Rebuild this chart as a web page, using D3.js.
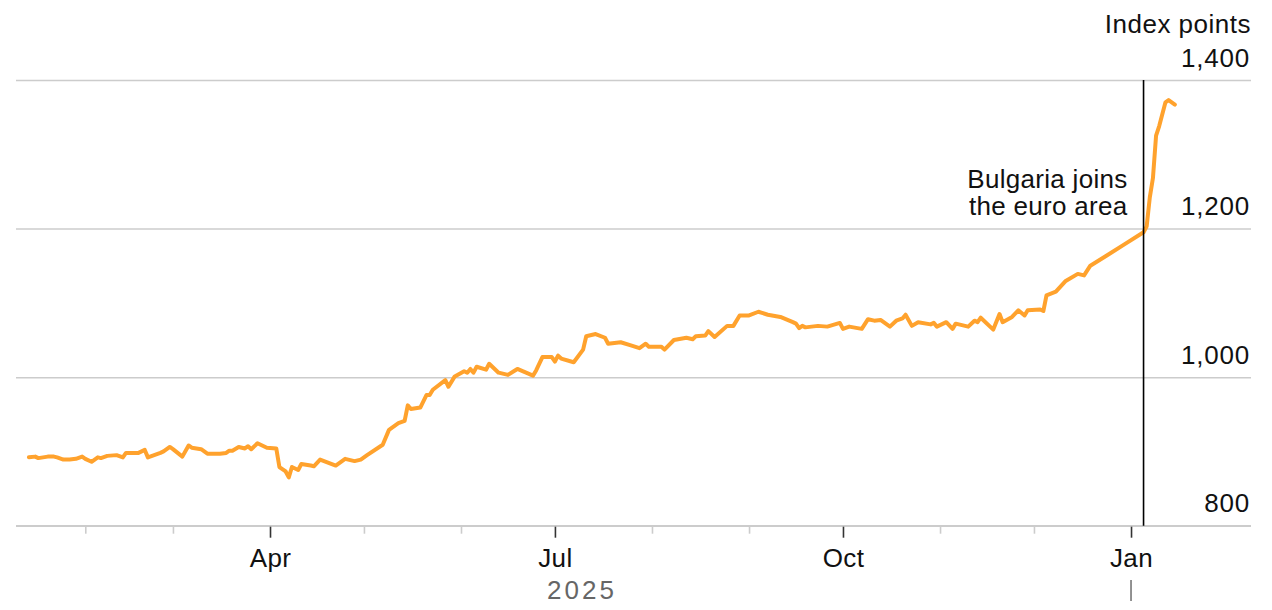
<!DOCTYPE html>
<html>
<head>
<meta charset="utf-8">
<script src="https://cdn.jsdelivr.net/npm/d3@7"></script>
<style>
  body { margin: 0; background: #fff; }
  svg { display: block; font-family: "Liberation Sans", Arial, sans-serif; }
</style>
</head>
<body>
<svg id="chart" width="1272" height="610"></svg>
<script>
// index values
var dates = [
  "2025-01-14","2025-01-16","2025-01-17","2025-01-20","2025-01-22","2025-01-23","2025-01-25","2025-01-27","2025-01-29","2025-01-31",
  "2025-02-01","2025-02-03","2025-02-05","2025-02-06","2025-02-08","2025-02-11","2025-02-13","2025-02-14","2025-02-18","2025-02-20",
  "2025-02-21","2025-02-23","2025-02-25","2025-02-26","2025-02-28","2025-03-01","2025-03-04","2025-03-06","2025-03-07","2025-03-10",
  "2025-03-12","2025-03-16","2025-03-18","2025-03-19","2025-03-20","2025-03-22","2025-03-24","2025-03-25","2025-03-26","2025-03-28",
  "2025-03-30","2025-03-31","2025-04-03","2025-04-04","2025-04-06","2025-04-07","2025-04-08","2025-04-10","2025-04-11","2025-04-14",
  "2025-04-15","2025-04-17","2025-04-22","2025-04-25","2025-04-28","2025-04-30","2025-05-02","2025-05-07","2025-05-09","2025-05-12",
  "2025-05-14","2025-05-15","2025-05-16","2025-05-19","2025-05-21","2025-05-22","2025-05-23","2025-05-27","2025-05-28","2025-05-30",
  "2025-06-02","2025-06-03","2025-06-04","2025-06-05","2025-06-06","2025-06-09","2025-06-10","2025-06-12","2025-06-13","2025-06-16",
  "2025-06-19","2025-06-24","2025-06-25","2025-06-27","2025-06-30","2025-07-01","2025-07-02","2025-07-03","2025-07-07","2025-07-10",
  "2025-07-11","2025-07-14","2025-07-17","2025-07-18","2025-07-22","2025-07-25","2025-07-28","2025-07-30","2025-07-31","2025-08-04",
  "2025-08-05","2025-08-08","2025-08-12","2025-08-14","2025-08-15","2025-08-18","2025-08-19","2025-08-21","2025-08-25","2025-08-27",
  "2025-08-29","2025-09-01","2025-09-04","2025-09-07","2025-09-11","2025-09-15","2025-09-16","2025-09-17","2025-09-18","2025-09-19",
  "2025-09-23","2025-09-26","2025-09-30","2025-10-01","2025-10-03","2025-10-07","2025-10-09","2025-10-11","2025-10-13","2025-10-16",
  "2025-10-18","2025-10-20","2025-10-21","2025-10-23","2025-10-25","2025-10-29","2025-10-30","2025-10-31","2025-11-03","2025-11-05",
  "2025-11-06","2025-11-10","2025-11-12","2025-11-13","2025-11-14","2025-11-18","2025-11-20","2025-11-21","2025-11-24","2025-11-26",
  "2025-11-28","2025-11-29","2025-12-03","2025-12-04","2025-12-05","2025-12-08","2025-12-11","2025-12-15","2025-12-17","2025-12-19",
  "2025-12-24","2025-12-30","2026-01-05","2026-01-06","2026-01-07","2026-01-08","2026-01-09","2026-01-10","2026-01-12","2026-01-13",
  "2026-01-15"
];
var values = [
  892,893,891,893,893,892,889,889,890,893,
  890,886,892,891,894,895,892,898,898,902,
  892,895,898,900,906,903,893,908,905,903,
  897,897,898,901,901,906,904,907,903,911,
  907,905,904,879,873,865,879,875,883,881,
  880,889,881,890,887,889,895,909,929,938,
  941,962,957,959,976,976,983,996,987,1001,
  1008,1006,1011,1006,1014,1010,1018,1010,1006,1003,
  1011,1002,1009,1027,1027,1021,1029,1025,1020,1037,
  1055,1058,1053,1045,1047,1043,1039,1045,1041,1041,
  1037,1050,1053,1051,1055,1056,1062,1054,1069,1069,
  1083,1083,1088,1084,1081,1074,1072,1066,1069,1067,
  1069,1068,1073,1065,1068,1065,1078,1076,1077,1068,
  1076,1079,1084,1069,1074,1071,1073,1068,1074,1065,
  1072,1068,1076,1074,1080,1064,1085,1074,1081,1090,
  1083,1090,1091,1089,1110,1115,1129,1139,1137,1150,
  1163,1179,1195,1203,1242,1268,1325,1338,1370,1373,
  1367
];
var yTicks = [800, 1000, 1200, 1400];
var labelMonths = [3, 6, 9, 0];   // Apr, Jul, Oct, Jan
var eventDate = "2026-01-05";
var eventLines = ["Bulgaria joins", "the euro area"];
var unitLabel = "Index points";
var yearLabel = "2025";

var parse = d3.utcParse("%Y-%m-%d");
var data = dates.map(function(d, i) { return { date: parse(d), value: values[i] }; });

var svg = d3.select("#chart"),
    plotLeft = 16, plotRight = 1251, plotTop = 80, plotBottom = 525.7;

var x = d3.scaleUtc()
    .domain([parse("2025-01-10"), parse("2026-02-08")])
    .range([16.4, 1250]);
var y = d3.scaleLinear().domain([800, 1400]).range([plotBottom, plotTop]);

//// y grid + labels
var gy = svg.append("g")
    .attr("transform", "translate(" + plotRight + ",0)")
    .call(d3.axisLeft(y).tickValues(yTicks).tickSize(plotRight - plotLeft).tickFormat(d3.format(",")));
gy.select(".domain").remove();
gy.selectAll(".tick line").attr("stroke", "#cccccc").attr("stroke-width", 1.5);
gy.selectAll(".tick text")
    .attr("x", -1).attr("dy", -14)
    .attr("text-anchor", "end")
    .attr("font-size", 26).attr("font-family", null)
    .attr("letter-spacing", 0.8)
    .attr("fill", "#111");

svg.append("text")
    .attr("x", 1251).attr("y", 33)
    .attr("text-anchor", "end")
    .attr("font-size", 26).attr("letter-spacing", 0.5).attr("fill", "#111")
    .text(unitLabel);

//// x axis
var months = d3.utcMonth.range(parse("2025-02-01"), parse("2026-01-02"));
var gx = svg.append("g")
    .attr("transform", "translate(0," + plotBottom + ")")
    .call(d3.axisBottom(x).tickValues(months).tickSizeOuter(0)
      .tickFormat(function(d) {
        return labelMonths.indexOf(d.getUTCMonth()) >= 0 ? d3.utcFormat("%b")(d) : "";
      }));
gx.select(".domain").attr("stroke", "#cccccc").attr("stroke-width", 1.5)
    .attr("d", "M" + plotLeft + ",0H" + plotRight);
gx.selectAll(".tick").each(function(d) {
  var major = labelMonths.indexOf(d.getUTCMonth()) >= 0;
  d3.select(this).select("line")
    .attr("y1", 1)
    .attr("y2", major ? 12 : 8)
    .attr("stroke", major ? "#333" : "#cccccc")
    .attr("stroke-width", 1.6);
});
gx.selectAll(".tick text")
    .attr("y", 41.5).attr("dy", 0)
    .attr("font-size", 26).attr("font-family", null)
    .attr("letter-spacing", 0.4)
    .attr("fill", "#111");

svg.append("text")
    .attr("x", 582).attr("y", 599)
    .attr("text-anchor", "middle")
    .attr("font-size", 26).attr("letter-spacing", 3)
    .attr("fill", "#666")
    .text(yearLabel);

svg.append("line")
    .attr("x1", x(parse("2026-01-01"))).attr("x2", x(parse("2026-01-01")))
    .attr("y1", 580).attr("y2", 601)
    .attr("stroke", "#777").attr("stroke-width", 1.6);

//// the line
var line = d3.line()
    .x(function(d) { return x(d.date); })
    .y(function(d) { return y(d.value); });

svg.append("path")
    .datum(data)
    .attr("fill", "none")
    .attr("stroke", "#ffa22d")
    .attr("stroke-width", 4)
    .attr("stroke-linejoin", "round")
    .attr("stroke-linecap", "round")
    .attr("d", line);

//// event marker
var ex = x(parse(eventDate));
svg.append("line")
    .attr("x1", ex).attr("x2", ex)
    .attr("y1", plotTop).attr("y2", plotBottom)
    .attr("stroke", "#000").attr("stroke-width", 1.6);

svg.append("g").selectAll("text")
    .data(eventLines)
    .enter().append("text")
    .attr("x", ex - 16)
    .attr("y", function(d, i) { return 188 + i * 27; })
    .attr("text-anchor", "end")
    .attr("font-size", 26).attr("letter-spacing", 0.3).attr("fill", "#111")
    .text(function(d) { return d; });
</script>
</body>
</html>
